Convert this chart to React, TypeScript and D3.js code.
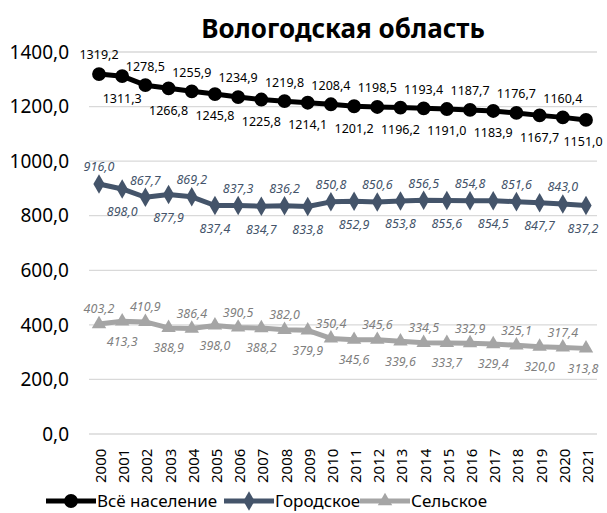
import { useEffect, useRef } from 'react';
import * as d3 from 'd3';

const years = ['2000', '2001', '2002', '2003', '2004', '2005', '2006', '2007', '2008', '2009', '2010',
  '2011', '2012', '2013', '2014', '2015', '2016', '2017', '2018', '2019', '2020', '2021'];

const total = [1319.2, 1311.3, 1278.5, 1266.8, 1255.9, 1245.8, 1234.9, 1225.8, 1219.8, 1214.1, 1208.4,
  1201.2, 1198.5, 1196.2, 1193.4, 1191.0, 1187.7, 1183.9, 1176.7, 1167.7, 1160.4, 1151.0];

const urban = [916.0, 898.0, 867.7, 877.9, 869.2, 837.4, 837.3, 834.7, 836.2, 833.8, 850.8,
  852.9, 850.6, 853.8, 856.5, 855.6, 854.8, 854.5, 851.6, 847.7, 843.0, 837.2];

const rural = [403.2, 413.3, 410.9, 388.9, 386.4, 398.0, 390.5, 388.2, 382.0, 379.9, 350.4,
  345.6, 345.6, 339.6, 334.5, 333.7, 332.9, 329.4, 325.1, 320.0, 317.4, 313.8];

const yTicks = [0, 200, 400, 600, 800, 1000, 1200, 1400];

const seriesNames = ['Всё население', 'Городское', 'Сельское'];

const FONT = '"Noto Sans", "Open Sans", sans-serif';

export default function App() {
  const ref = useRef<SVGSVGElement>(null);

  useEffect(() => {
    const svg = d3.select(ref.current);
    svg.selectAll('*').remove();

    const W = 607, H = 513;
    const x = d3.scalePoint<string>().domain(years).range([99, 586]);
    const y = d3.scaleLinear().domain([0, 1400]).range([434, 52]);
    const fmt = (v: number) => d3.format('.1f')(v).replace('.', ',');

    svg.append('rect').attr('width', W).attr('height', H).attr('fill', '#fff');

    svg.append('text')
      .attr('x', 343).attr('y', 38)
      .attr('text-anchor', 'middle')
      .attr('font-family', FONT).attr('font-weight', 'bold').attr('font-size', 26)
      .text('Вологодская область');

    // grid
    svg.append('g').selectAll('line').data(yTicks).enter().append('line')
      .attr('x1', 89).attr('x2', 597)
      .attr('y1', d => y(d)).attr('y2', d => y(d))
      .attr('stroke', '#d9d9d9').attr('stroke-width', 1.3);

    svg.append('g').selectAll('text').data(yTicks).enter().append('text')
      .attr('x', 69).attr('y', d => y(d))
      .attr('dy', '0.35em')
      .attr('text-anchor', 'end')
      .attr('font-family', FONT).attr('font-size', 19)
      .text(d => fmt(d));

    // x labels
    svg.append('g').selectAll('text').data(years).enter().append('text')
      .attr('transform', d => `translate(${x(d)! + 7},483) rotate(-90)`)
      .attr('font-family', FONT).attr('font-size', 15)
      .text(d => d);

    const series = [
      { name: seriesNames[0], values: total, color: '#000000', labelColor: '#000000', italic: false, shape: d3.symbolCircle, size: 150, off: [-19, 22] },
      { name: seriesNames[1], values: urban, color: '#44546a', labelColor: '#44546a', italic: true, shape: d3.symbolDiamond, size: 110, off: [-17, 23] },
      { name: seriesNames[2], values: rural, color: '#a5a5a5', labelColor: '#7f7f7f', italic: true, shape: d3.symbolTriangle, size: 90, off: [-15, 20] },
    ];

    const line = d3.line<number>()
      .x((_, i) => x(years[i])!)
      .y(d => y(d));

    series.forEach(s => {
      const g = svg.append('g');
      g.append('path')
        .attr('d', line(s.values))
        .attr('fill', 'none')
        .attr('stroke', s.color)
        .attr('stroke-width', 5)
        .attr('stroke-linejoin', 'round');
      g.selectAll('path.m').data(s.values).enter().append('path')
        .attr('class', 'm')
        .attr('d', d3.symbol().type(s.shape).size(s.size)())
        .attr('transform', (d, i) => `translate(${x(years[i])},${y(d)})`)
        .attr('fill', s.color);
      // labels alternate above / below the points
      g.selectAll('text').data(s.values).enter().append('text')
        .attr('x', (_, i) => Math.min(x(years[i])!, 583))
        .attr('y', (d, i) => y(d) + (i % 2 === 0 ? s.off[0] : s.off[1]))
        .attr('dy', '0.35em')
        .attr('text-anchor', 'middle')
        .attr('font-family', FONT).attr('font-size', 12.5)
        .attr('font-style', s.italic ? 'italic' : 'normal')
        .attr('fill', s.labelColor)
        .text(d => fmt(d));
    });

    // legend
    const legendX = [46, 224, 360];
    const lg = svg.append('g');
    series.forEach((s, i) => {
      const lx = legendX[i];
      lg.append('line')
        .attr('x1', lx).attr('x2', lx + 50)
        .attr('y1', 501).attr('y2', 501)
        .attr('stroke', s.color).attr('stroke-width', 5);
      lg.append('path')
        .attr('d', d3.symbol().type(s.shape).size(s.size)())
        .attr('transform', `translate(${lx + 25},501)`)
        .attr('fill', s.color);
      lg.append('text')
        .attr('x', lx + 51).attr('y', 501).attr('dy', '0.35em')
        .attr('font-family', FONT).attr('font-size', 17)
        .text(s.name);
    });
  }, []);

  return (
    <svg ref={ref} width={607} height={513}
      style={{ position: 'absolute', left: 0, top: 0, display: 'block' }}></svg>
  );
}
